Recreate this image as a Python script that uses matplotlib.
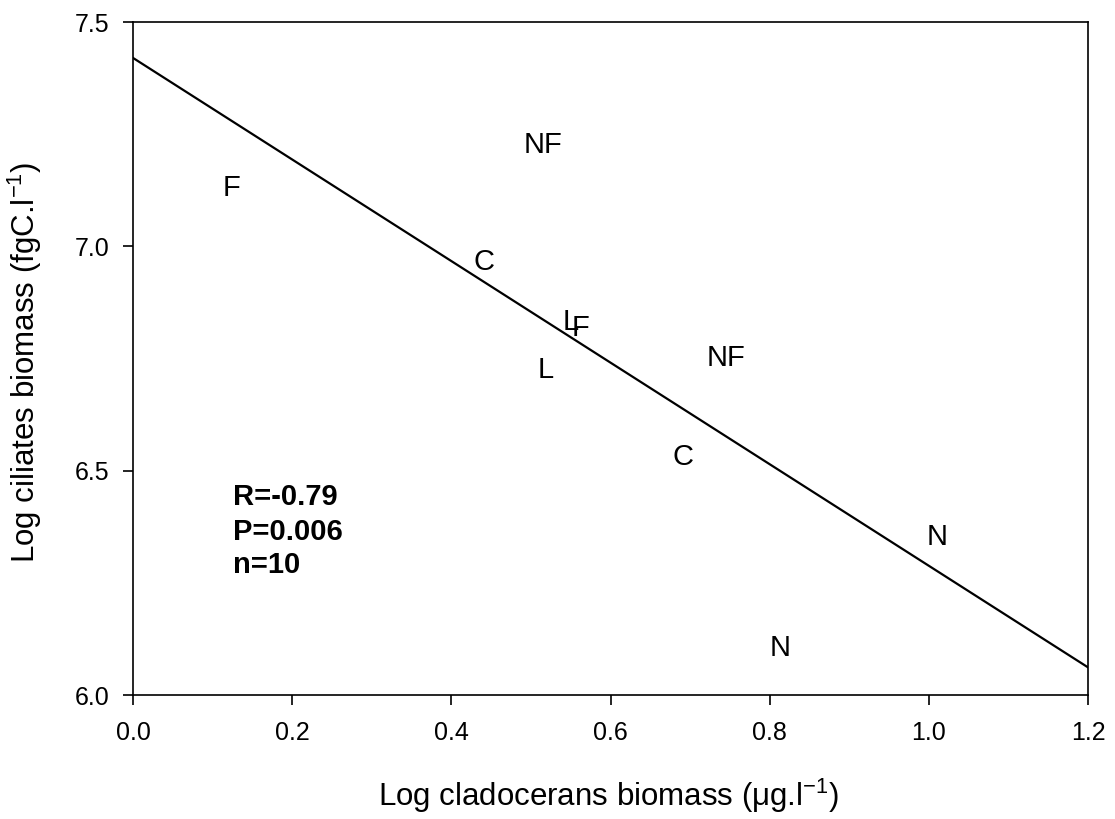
import matplotlib
matplotlib.use("Agg")
import matplotlib.pyplot as plt
import numpy as np

plt.rcParams['font.family'] = ['Liberation Sans', 'DejaVu Sans']
plt.rcParams['mathtext.fontset'] = 'custom'
plt.rcParams['mathtext.rm'] = 'Liberation Sans'
plt.rcParams['mathtext.it'] = 'Liberation Sans'

# treatment codes and their log biomass values
codes = ['F', 'NF', 'C', 'L', 'F', 'L', 'NF', 'C', 'N', 'N']
log_clad = [0.124, 0.515, 0.441, 0.550, 0.562, 0.519, 0.745, 0.691, 1.010, 0.813]
log_cil = [7.13, 7.226, 6.965, 6.831, 6.818, 6.724, 6.751, 6.531, 6.352, 6.105]

# fitted regression line
intercept = 7.42
slope = -1.132
stats = ['R=-0.79', 'P=0.006', 'n=10']

fig = plt.figure(figsize=(11.15, 8.19), dpi=100)
ax = fig.add_axes([0.1193, 0.1514, 0.8565, 0.8217])

for c, x, y in zip(codes, log_clad, log_cil):
    ax.text(x, y, c, fontsize=21, ha='center', va='center')

xs = np.array([0.0, 1.2])
ax.plot(xs, intercept + slope * xs, color='black', lw=1.6)

ax.set_xlim(0, 1.2)
ax.set_ylim(6.0, 7.5)
ax.set_xticks(np.arange(0, 1.21, 0.2))
ax.set_yticks([6.0, 6.5, 7.0, 7.5])
ax.xaxis.set_major_formatter(matplotlib.ticker.FormatStrFormatter('%.1f'))
ax.yaxis.set_major_formatter(matplotlib.ticker.FormatStrFormatter('%.1f'))
ax.tick_params(direction='out', length=7, width=1.2, labelsize=18, pad=10)
ax.tick_params(axis='x', pad=12)
for s in ax.spines.values():
    s.set_linewidth(1.2)

ax.set_xlabel(r'Log cladocerans biomass ($\mu$g.l$^{-1}$)', fontsize=22.5)
ax.set_ylabel(r'Log ciliates biomass (fgC.l$^{-1}$)', fontsize=22.5)
ax.xaxis.set_label_coords(0.498, -0.122)
ax.yaxis.set_label_coords(-0.093, 0.495)

for txt, yb in zip(stats, [0.282, 0.230, 0.181]):
    ax.text(0.1047, yb, txt, transform=ax.transAxes, fontsize=21,
            fontweight='bold', ha='left', va='baseline')

fig.savefig('out.png', dpi=100)
